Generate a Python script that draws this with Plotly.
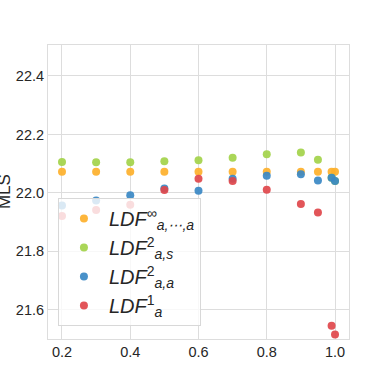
import plotly.graph_objects as go

x_vals = [0.2, 0.3, 0.4, 0.5, 0.6, 0.7, 0.8, 0.9, 0.95, 0.99, 1.0]

mls_inf = [22.072, 22.072, 22.072, 22.072, 22.072, 22.072, 22.072, 22.072, 22.072, 22.072, 22.072]
mls_as = [22.106, 22.105, 22.105, 22.108, 22.112, 22.120, 22.132, 22.138, 22.113, 22.052, 22.041]
mls_aa = [21.957, 21.974, 21.992, 22.015, 22.007, 22.048, 22.059, 22.064, 22.042, 22.052, 22.041]
mls_a1 = [21.921, 21.941, 21.959, 22.010, 22.048, 22.041, 22.011, 21.962, 21.933, 21.545, 21.515]

names = [
    "<i>LDF</i><sup>∞</sup><sub><i>a,⋯,a</i></sub>",
    "<i>LDF</i><sup>2</sup><sub><i>a,s</i></sub>",
    "<i>LDF</i><sup>2</sup><sub><i>a,a</i></sub>",
    "<i>LDF</i><sup>1</sup><sub><i>a</i></sub>",
]
colors = ["#fdb02b", "#a3d24a", "#3a88c4", "#e0474b"]
series = [mls_inf, mls_as, mls_aa, mls_a1]

fig = go.Figure()
for i, (name, col, ys) in enumerate(zip(names, colors, series)):
    fig.add_trace(go.Scatter(x=x_vals, y=ys, mode="markers", name=name,
                             legendgroup=f"g{i}",
                             marker=dict(size=8, color=col, opacity=0.92)))

grid = "#dddddd"
fig.update_layout(
    width=388, height=388,
    margin=dict(l=48, r=39, t=45, b=49),
    paper_bgcolor="white", plot_bgcolor="white",
    font=dict(family="Liberation Sans, Arial", size=14.5, color="#262626"),
    showlegend=True,
    legend=dict(x=0.033, y=0.48, xanchor="left", yanchor="top",
                bgcolor="rgba(255,255,255,0.8)", bordercolor="#d8d8d8", borderwidth=1,
                font=dict(size=20, color="#262626"), tracegroupgap=0, itemwidth=40),
)
# axis title sits partly off the left edge, like the original
fig.add_annotation(text="MLS", textangle=-90, xref="paper", yref="paper",
                   x=-0.146, y=0.5, xanchor="center", yanchor="middle",
                   showarrow=False, font=dict(size=17, color="#262626"))
fig.update_xaxes(range=[0.159, 1.041], tickvals=[0.2, 0.4, 0.6, 0.8, 1.0],
                 ticktext=["0.2", "0.4", "0.6", "0.8", "1.0"],
                 showgrid=True, gridcolor=grid, zeroline=False,
                 showline=True, linecolor=grid, mirror=True, ticks="", ticklen=0,
                 automargin=False)
fig.update_yaxes(range=[21.5, 22.506], tickvals=[21.6, 21.8, 22.0, 22.2, 22.4],
                 ticktext=["21.6", "21.8", "22.0", "22.2", "22.4"],
                 showgrid=True, gridcolor=grid, zeroline=False,
                 showline=True, linecolor=grid, mirror=True, ticks="",
                 automargin=False)

# drop the browser's default 8px body margin so the figure sits at 0,0
fig.write_html("out.html", config={"displayModeBar": False},
               post_script="document.body.style.margin='0';")
